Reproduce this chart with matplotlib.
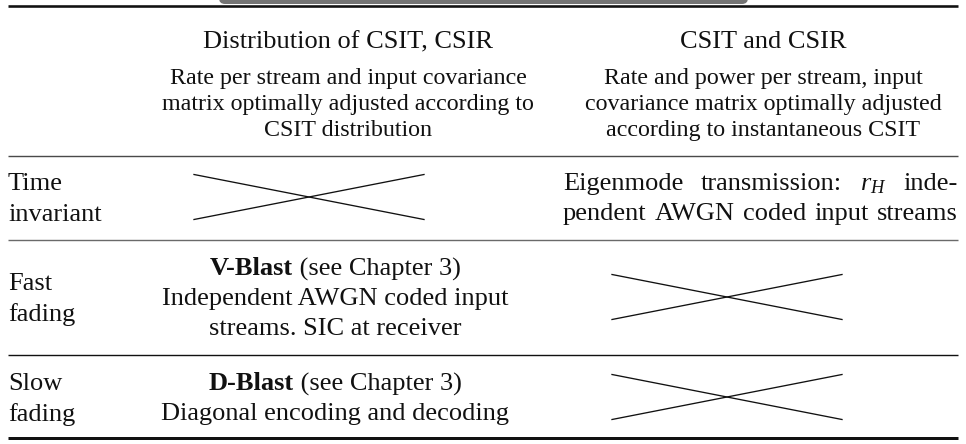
import matplotlib
matplotlib.use("Agg")
import matplotlib.pyplot as plt
from matplotlib.patches import FancyBboxPatch

plt.rcParams["font.family"] = "Liberation Serif"
plt.rcParams["mathtext.fontset"] = "custom"
plt.rcParams["mathtext.rm"] = "Liberation Serif"
plt.rcParams["mathtext.it"] = "Liberation Serif:italic"
plt.rcParams["mathtext.bf"] = "Liberation Serif:bold"

# -----------------------------
# Table content
# -----------------------------
col_titles = ["Distribution of CSIT, CSIR", "CSIT and CSIR"]
col_notes = [
    ["Rate per stream and input covariance",
     "matrix optimally adjusted according to",
     "CSIT distribution"],
    ["Rate and power per stream, input",
     "covariance matrix optimally adjusted",
     "according to instantaneous CSIT"],
]
row_labels = [["Time", "invariant"], ["Fast", "fading"], ["Slow", "fading"]]

# None = crossed-out cell, otherwise lines made of (text, bold) pieces
cells = [
    [None,
     [[("Eigenmode transmission: $r_H$ inde-", False)],
      [("pendent AWGN coded input streams", False)]]],
    [[[("V-Blast", True), (" (see Chapter 3)", False)],
      [("Independent AWGN coded input", False)],
      [("streams. SIC at receiver", False)]],
     None],
    [[[("D-Blast", True), (" (see Chapter 3)", False)],
      [("Diagonal encoding and decoding", False)]],
     None],
]
justified = [[False, True], [False, False], [False, False]]

# -----------------------------
# Layout (pixels, y going down)
# -----------------------------
W, H = 966, 444
x_left, x_right = 8, 958
rule_y = [6, 156, 240, 355, 438]
rule_px = [2.6, 1.4, 1.4, 1.4, 3.0]
rule_col = ["#111111", "#4a4a4a", "#6a6a6a", "#111111", "#111111"]
head_x = [348, 763]
body_x = [335, 760]
cross_x = [309, 727]
body_left, body_right = 563, 958
row_mid = [197, 297, 397]
fs_big = 19.0
fs_small = 17.3
line_gap = 30

fig = plt.figure(figsize=(W / 100, H / 100), dpi=100)
ax = fig.add_axes([0, 0, 1, 1])
ax.set_xlim(0, W)
ax.set_ylim(H, 0)
ax.axis("off")
renderer = fig.canvas.get_renderer()


def width_of(txt, **kw):
    t = ax.text(0, 0, txt, **kw)
    w = t.get_window_extent(renderer).width
    t.remove()
    return w


def put_line(pieces, xc, y, size):
    # centre a line made of several pieces (some bold)
    ws = [width_of(s, fontsize=size, fontweight="bold" if b else "normal") for s, b in pieces]
    x = xc - sum(ws) / 2
    for (s, b), w in zip(pieces, ws):
        ax.text(x, y, s, fontsize=size, fontweight="bold" if b else "normal",
                ha="left", va="baseline", color="#111111")
        x += w


def put_justified(txt, x0, x1, y, size):
    words = txt.split(" ")
    ws = [width_of(w, fontsize=size) for w in words]
    gap = (x1 - x0 - sum(ws)) / (len(words) - 1)
    x = x0
    for w, wd in zip(words, ws):
        ax.text(x, y, w, fontsize=size, ha="left", va="baseline", color="#111111")
        x += wd + gap


def baseline(yc, size):
    # visual centre -> baseline
    return yc + size * 100 / 72 * 0.32


# top tab (grey) and rules
tab = FancyBboxPatch((219, -12), 529, 16, boxstyle="round,pad=0,rounding_size=6",
                     fc="#747474", ec="none", zorder=1)
ax.add_patch(tab)
for y, px, c in zip(rule_y, rule_px, rule_col):
    ax.plot([x_left, x_right], [y, y], color=c, lw=px * 0.72, solid_capstyle="butt", zorder=2)

# header
for j in range(2):
    put_line([(col_titles[j], False)], head_x[j], baseline(40, fs_big), fs_big)
    for k, note in enumerate(col_notes[j]):
        put_line([(note, False)], head_x[j], baseline(76 + 26 * k, fs_small), fs_small)

# body rows
for i in range(3):
    ym = row_mid[i]
    lab = row_labels[i]
    for k, s in enumerate(lab):
        yy = ym + (k - (len(lab) - 1) / 2) * 31
        ax.text(x_left, baseline(yy, fs_big), s, fontsize=fs_big, ha="left",
                va="baseline", color="#111111")
    for j in range(2):
        cell = cells[i][j]
        if cell is None:
            cx = cross_x[j]
            ax.plot([cx - 115, cx + 115], [ym - 22.5, ym + 22.5], color="#111111", lw=0.95)
            ax.plot([cx - 115, cx + 115], [ym + 22.5, ym - 22.5], color="#111111", lw=0.95)
            continue
        n = len(cell)
        for k, line in enumerate(cell):
            yy = baseline(ym + (k - (n - 1) / 2) * line_gap, fs_big)
            if justified[i][j]:
                put_justified(line[0][0], body_left, body_right, yy, fs_big)
            else:
                put_line(line, body_x[j], yy, fs_big)

fig.savefig("out.png", dpi=100)
